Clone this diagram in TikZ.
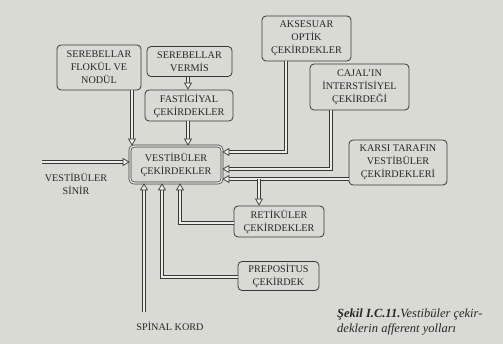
\documentclass[tikz,border=0pt]{standalone}
\usepackage{fontspec}
\setmainfont{Liberation Serif}
\usetikzlibrary{arrows.meta}
\definecolor{paper}{RGB}{218,218,213}
\definecolor{ln}{RGB}{55,55,55}
\definecolor{inner}{RGB}{236,236,232}
\begin{document}
\begin{tikzpicture}[x=1pt,y=-1pt,
  box/.style={draw=ln, line width=0.8pt, rounded corners=4pt, align=center,
    inner sep=1pt, font=\fontsize{10.2}{13}\selectfont, text=black!85},
  dbl/.style={draw=ln, line width=0.7pt, double=inner, double distance=1.8pt,
    -{Triangle[open, length=7pt, width=8pt, line width=0.7pt, fill=inner]}},
  lbl/.style={align=center, font=\fontsize{10.2}{13.5}\selectfont, text=black!85}]
\fill[paper] (0,0) rectangle (503,344);
\useasboundingbox (0,0) rectangle (503,344);

\node[box, minimum width=84pt, minimum height=45pt] (flok) at (99,67.5) {SEREBELLAR\\FLOKÜL VE\\NODÜL};
\node[box, minimum width=85pt, minimum height=30pt] (verm) at (189.5,61.5) {SEREBELLAR\\VERMİS};
\node[box, minimum width=88pt, minimum height=31pt] (fast) at (189,105.5) {FASTİGİYAL\\ÇEKİRDEKLER};
\node[box, double=inner, double distance=1.4pt, line width=0.7pt, minimum width=92pt, minimum height=37pt] (vest) at (176,164.5) {VESTİBÜLER\\ÇEKİRDEKLER};
\node[box, minimum width=89pt, minimum height=45pt] (aks) at (306.5,38.5) {AKSESUAR\\OPTİK\\ÇEKİRDEKLER};
\node[box, minimum width=99pt, minimum height=46pt] (cajal) at (359.5,87) {CAJAL’IN\\İNTERSTİSİYEL\\ÇEKİRDEĞİ};
\node[box, minimum width=98pt, minimum height=45pt] (karsi) at (398,162.5) {KARSI TARAFIN\\VESTİBÜLER\\ÇEKİRDEKLERİ};
\node[box, minimum width=90pt, minimum height=31pt] (ret) at (279,221.5) {RETİKÜLER\\ÇEKİRDEKLER};
\node[box, minimum width=81pt, minimum height=29pt] (prep) at (278.5,276) {PREPOSİTUS\\ÇEKİRDEK};

\node[lbl] (sinir) at (76,184) {VESTİBÜLER\\SİNİR};
\node[lbl] (spinal) at (170,326) {SPİNAL KORD};
\node[align=left, anchor=west, font=\fontsize{12.5}{15}\selectfont\itshape, text=black!85, inner sep=0pt] (cap) at (337,322.5)
  {\textbf{Şekil I.C.11.}Vestibüler çekir-\\deklerin afferent yolları};

\coordinate (sinstart) at (42,162);
\coordinate (spstart) at (144,312);
\coordinate (rbranch) at (259,179);

% connectors
\draw[dbl] (flok.south -| 132,0) -- (vest.north -| 132,0);
\draw[dbl] (verm.south -| 188,0) -- (fast.north -| 188,0);
\draw[dbl] (fast.south -| 188,0) -- (vest.north -| 188,0);
\draw[dbl] (sinstart) -- (sinstart -| vest.west);
\draw[dbl] (aks.south -| 286,0) |- (vest.east |- 0,152);
\draw[dbl] (cajal.south -| 331,0) |- (vest.east |- 0,169);
\draw[dbl] (karsi.west |- 0,179) -- (vest.east |- 0,179);
\draw[dbl] (rbranch) -- (rbranch |- ret.north);
\draw[dbl] (ret.west |- 0,223) -| (vest.south -| 180,0);
\draw[dbl] (prep.west |- 0,277) -| (vest.south -| 162,0);
\draw[dbl] (spstart) -- (spstart |- vest.south);
\end{tikzpicture}
\end{document}
